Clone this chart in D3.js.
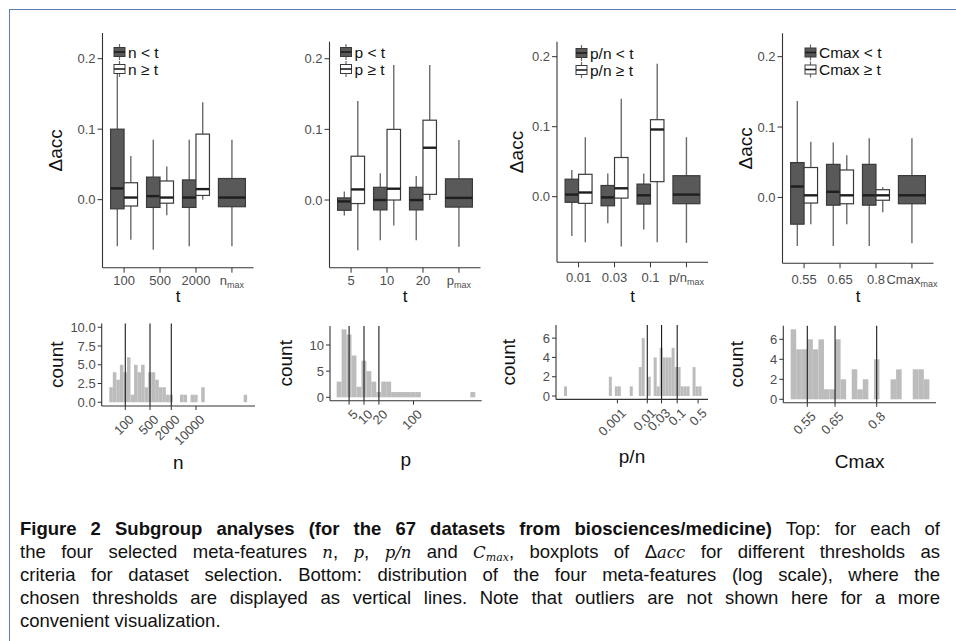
<!DOCTYPE html>
<html>
<head>
<meta charset="utf-8">
<script src="https://cdnjs.cloudflare.com/ajax/libs/d3/7.8.5/d3.min.js"></script>
<style>
body { margin: 0; background: #fff; }
text { font-family: "Liberation Sans", Arial, sans-serif; }
</style>
</head>
<body>
<svg id="fig" width="956" height="641"></svg>
<script>
// boxplot stats per threshold: [whisker low, q1, median, q3, whisker high]
var nTicks = ["100", "500", "2000", "max"];
var nBelow = [[-0.066, -0.013, 0.016, 0.100, 0.179], [-0.071, -0.011, 0.005, 0.032, 0.085],
              [-0.066, -0.011, 0.003, 0.028, 0.085], [-0.066, -0.010, 0.003, 0.030, 0.085]];
var nAbove = [[-0.057, -0.009, 0.003, 0.024, 0.062], [-0.022, -0.005, 0.003, 0.0265, 0.047],
              [0.000, 0.006, 0.015, 0.093, 0.138], null];

var pTicks = ["5", "10", "20", "max"];
var pBelow = [[-0.022, -0.0145, -0.002, 0.003, 0.012], [-0.057, -0.014, 0.000, 0.018, 0.038],
              [-0.057, -0.014, 0.000, 0.018, 0.034], [-0.066, -0.010, 0.003, 0.030, 0.085]];
var pAbove = [[-0.071, -0.005, 0.015, 0.062, 0.140], [-0.036, 0.000, 0.016, 0.100, 0.191],
              [0.000, 0.008, 0.074, 0.113, 0.191], null];

var pnTicks = ["0.01", "0.03", "0.1", "max"];
var pnBelow = [[-0.056, -0.008, 0.003, 0.025, 0.038], [-0.038, -0.013, -0.001, 0.016, 0.033],
               [-0.047, -0.0105, 0.002, 0.018, 0.033], [-0.066, -0.010, 0.003, 0.030, 0.085]];
var pnAbove = [[-0.065, -0.0095, 0.006, 0.032, 0.085], [-0.071, -0.002, 0.012, 0.056, 0.140],
               [-0.065, 0.0215, 0.096, 0.110, 0.190], null];

var cTicks = ["0.55", "0.65", "0.8", "max"];
var cBelow = [[-0.069, -0.038, 0.0155, 0.0495, 0.137], [-0.069, -0.011, 0.008, 0.047, 0.078],
              [-0.069, -0.011, 0.003, 0.047, 0.084], [-0.065, -0.009, 0.003, 0.031, 0.084]];
var cAbove = [[-0.038, -0.008, 0.003, 0.0425, 0.079], [-0.038, -0.009, 0.003, 0.039, 0.060],
              [-0.021, -0.004, 0.003, 0.011, 0.0145], null];

// histograms: counts per bin (bins of equal width on the axis scale)
var nCounts = [2, 4, 3, 5, 4, 6, 1, 5, 4, 5, 2, 4, 4, 3, 2, 2, 1, 1, 0, 0, 1, 1, 0, 1, 1, 0, 2, 0, 0, 0, 0, 0, 0, 0, 0, 0, 0, 0, 1];
var pCounts = [3, 13, 12, 8, 2, 7, 5, 3, 1, 3, 3, 1, 1, 1, 1, 1, 1, 0, 0, 0, 0, 0, 0, 0, 0, 0, 0, 1];
var pnCounts = [1, 0, 0, 0, 0, 0, 0, 0, 0, 0, 0, 0, 0, 0, 0, 2, 0, 1, 1, 0, 0, 0, 1, 0, 0, 3, 6, 0, 2, 0,
                4, 1, 5, 4, 4, 4, 5, 3, 3, 1, 1, 1, 0, 3, 1, 1];
var cCounts = [7, 5, 5, 6, 5, 6, 1, 1, 6, 2, 0, 3, 1, 2, 0, 4, 0, 0, 2, 3, 0, 0, 3, 3, 2];

var nThresholds = [100, 500, 2000];
var pThresholds = [5, 10, 20];
var pnThresholds = [0.01, 0.03, 0.1];
var cThresholds = [0.55, 0.65, 0.8];

var svg = d3.select("#fig");
var axisCol = "#333", tickCol = "#4d4d4d";

svg.append("rect")
  .attr("x", 9.5).attr("y", 9.5).attr("width", 1000).attr("height", 1000)
  .attr("fill", "none").attr("stroke", "#5d7fb5").attr("stroke-width", 1);

var topPanels = [
  {ticks: nTicks, sym: "n", below: nBelow, above: nAbove, x: [102.5, 253.5],
   yDom: [-0.0965, 0.2364], yRng: [267.7, 33], keyX: 114, keyY: 52, ylab: 55, tickY: 285},
  {ticks: pTicks, sym: "p", below: pBelow, above: pAbove, x: [329.5, 480.5],
   yDom: [-0.0958, 0.2241], yRng: [267.7, 41.7], keyX: 340.5, keyY: 52, ylab: null, tickY: 285},
  {ticks: pnTicks, sym: "p/n", below: pnBelow, above: pnAbove, x: [557, 708],
   yDom: [-0.0937, 0.2214], yRng: [262.3, 41.7], keyX: 576, keyY: 53, ylab: 516, tickY: 282},
  {ticks: cTicks, sym: "Cmax", below: cBelow, above: cAbove, x: [782.5, 933.5],
   yDom: [-0.0936, 0.2332], yRng: [263.3, 33.3], keyX: 805, keyY: 52.5, ylab: 745, tickY: 284}
];

function drawBox(g, cx, w, s, y, fill) {
  g.append("line").attr("x1", cx).attr("x2", cx).attr("y1", y(s[4])).attr("y2", y(s[3]))
    .attr("stroke", "#6b6b6b").attr("stroke-width", 1.4);
  g.append("line").attr("x1", cx).attr("x2", cx).attr("y1", y(s[1])).attr("y2", y(s[0]))
    .attr("stroke", "#6b6b6b").attr("stroke-width", 1.4);
  g.append("rect").attr("x", cx - w / 2).attr("y", y(s[3]))
    .attr("width", w).attr("height", y(s[1]) - y(s[3]))
    .attr("fill", fill).attr("stroke", "#3a3a3a").attr("stroke-width", 1.2);
  g.append("line").attr("x1", cx - w / 2).attr("x2", cx + w / 2)
    .attr("y1", y(s[2])).attr("y2", y(s[2]))
    .attr("stroke", "#1e1e1e").attr("stroke-width", 2.4);
}

function legendKey(g, x, cy, fill) {
  var w = 11, h = 16;
  g.append("line").attr("x1", x + w / 2).attr("x2", x + w / 2).attr("y1", cy - h / 2).attr("y2", cy + h / 2)
    .attr("stroke", "#6b6b6b").attr("stroke-width", 1.2);
  g.append("rect").attr("x", x).attr("y", cy - 4.5).attr("width", w).attr("height", 9)
    .attr("fill", fill).attr("stroke", "#3a3a3a").attr("stroke-width", 1);
  g.append("line").attr("x1", x).attr("x2", x + w).attr("y1", cy).attr("y2", cy)
    .attr("stroke", "#1e1e1e").attr("stroke-width", 1.6);
}

topPanels.forEach(function(p) {
  var g = svg.append("g");
  var x = d3.scalePoint().domain(p.ticks).range(p.x).padding(0.6);
  var y = d3.scaleLinear().domain(p.yDom).range(p.yRng);
  var step = x.step();

  p.ticks.forEach(function(t, i) {
    var cx = x(t);
    if (p.above[i]) {
      drawBox(g, cx - step * 0.1875, step * 0.375, p.below[i], y, "#595959");
      drawBox(g, cx + step * 0.1875, step * 0.375, p.above[i], y, "#ffffff");
    } else {
      drawBox(g, cx, step * 0.75, p.below[i], y, "#595959");
    }
  });

  // axes
  g.append("line").attr("x1", p.x[0]).attr("x2", p.x[0]).attr("y1", p.yRng[0]).attr("y2", p.yRng[1])
    .attr("stroke", axisCol).attr("stroke-width", 1.1);
  g.append("line").attr("x1", p.x[0]).attr("x2", p.x[1]).attr("y1", p.yRng[0]).attr("y2", p.yRng[0])
    .attr("stroke", axisCol).attr("stroke-width", 1.1);

  [0, 0.1, 0.2].forEach(function(v) {
    g.append("line").attr("x1", p.x[0] - 5).attr("x2", p.x[0]).attr("y1", y(v)).attr("y2", y(v))
      .attr("stroke", axisCol);
    g.append("text").attr("x", p.x[0] - 7).attr("y", y(v)).attr("dy", "0.35em")
      .attr("text-anchor", "end").attr("font-size", 13).attr("fill", tickCol)
      .text(d3.format(".1f")(v));
  });

  p.ticks.forEach(function(t) {
    g.append("line").attr("x1", x(t)).attr("x2", x(t)).attr("y1", p.yRng[0]).attr("y2", p.yRng[0] + 5)
      .attr("stroke", axisCol);
    var lab = g.append("text").attr("x", x(t)).attr("y", p.tickY)
      .attr("text-anchor", "middle").attr("font-size", 13).attr("fill", tickCol);
    if (t === "max") {
      lab.append("tspan").text(p.sym);
      lab.append("tspan").attr("font-size", 9).attr("dy", 3).text("max");
    } else {
      lab.text(t);
    }
  });

  g.append("text").attr("x", (p.x[0] + p.x[1]) / 2).attr("y", 302)
    .attr("text-anchor", "middle").attr("font-size", 17).attr("fill", "#111").text("t");

  if (p.ylab !== null) {
    g.append("text").attr("transform", "translate(" + p.ylab + "," + ((p.yRng[0] + p.yRng[1]) / 2) + ") rotate(-90)")
      .attr("dy", "0.35em").attr("text-anchor", "middle").attr("font-size", 19).attr("fill", "#111")
      .text("\u0394acc");
  }

  // legend
  var labels = [p.sym + " < t", p.sym + " \u2265 t"];
  [0, 1].forEach(function(i) {
    var cy = p.keyY + i * 17;
    legendKey(g, p.keyX, cy, i === 0 ? "#595959" : "#ffffff");
    g.append("text").attr("x", p.keyX + 14).attr("y", cy).attr("dy", "0.36em")
      .attr("font-size", 15.5).attr("fill", "#111").text(labels[i]);
  });
});

var histPanels = [
  {counts: nCounts, start: 1.547, width: 0.1, log: true, x: [101.7, 255], xDom: [21.5, 466700],
   ticks: [100, 500, 2000, 10000], thr: nThresholds, yDom: [-0.5, 10.5], yRng: [406, 323.5],
   yTicks: [0, 2.5, 5, 7.5, 10], yFmt: ".1f", title: "n", ylab: 56.7, titleY: 469},
  {counts: pCounts, start: 0.448, width: 0.1, log: true, x: [330, 481.7], xDom: [2.056, 2388],
   ticks: [5, 10, 20, 100], thr: pThresholds, yDom: [-0.65, 13.65], yRng: [400.7, 325.9],
   yTicks: [0, 5, 10], yFmt: "d", title: "p", ylab: 285, titleY: 466},
  {counts: pnCounts, start: -4.786, width: 0.1, log: true, x: [556, 708], xDom: [8.85e-6, 1.072],
   ticks: [0.001, 0.01, 0.03, 0.1, 0.5], thr: pnThresholds, yDom: [-0.35, 7.35], yRng: [399.4, 325.1],
   yTicks: [0, 2, 4, 6], yFmt: "d", title: "p/n", ylab: 508, titleY: 463},
  {counts: cCounts, start: 0.490, width: 0.02, log: false, x: [783.3, 936], xDom: [0.4635, 1.0138],
   ticks: [0.55, 0.65, 0.8], thr: cThresholds, yDom: [-0.35, 7.35], yRng: [402.8, 325.8],
   yTicks: [0, 2, 4, 6], yFmt: "d", title: "Cmax", ylab: 736.7, titleY: 468}
];

histPanels.forEach(function(h) {
  var g = svg.append("g");
  var x = (h.log ? d3.scaleLog() : d3.scaleLinear()).domain(h.xDom).range(h.x);
  var y = d3.scaleLinear().domain(h.yDom).range(h.yRng);
  var edge = function(k) {
    var v = h.start + k * h.width;
    return h.log ? Math.pow(10, v) : v;
  };

  g.selectAll("rect.bar").data(h.counts).enter().append("rect")
    .attr("class", "bar")
    .attr("x", function(d, i) { return x(edge(i)); })
    .attr("width", function(d, i) { return x(edge(i + 1)) - x(edge(i)); })
    .attr("y", function(d) { return y(d); })
    .attr("height", function(d) { return y(0) - y(d); })
    .attr("fill", "#bcbcbc");

  h.thr.forEach(function(t) {
    g.append("line").attr("x1", x(t)).attr("x2", x(t)).attr("y1", h.yRng[1]).attr("y2", h.yRng[0])
      .attr("stroke", "#1a1a1a").attr("stroke-width", 1.1);
  });

  g.append("line").attr("x1", h.x[0]).attr("x2", h.x[0]).attr("y1", h.yRng[0]).attr("y2", h.yRng[1])
    .attr("stroke", axisCol).attr("stroke-width", 1.1);
  g.append("line").attr("x1", h.x[0]).attr("x2", h.x[1]).attr("y1", h.yRng[0]).attr("y2", h.yRng[0])
    .attr("stroke", axisCol).attr("stroke-width", 1.1);

  h.yTicks.forEach(function(v) {
    g.append("line").attr("x1", h.x[0] - 4).attr("x2", h.x[0]).attr("y1", y(v)).attr("y2", y(v))
      .attr("stroke", axisCol);
    g.append("text").attr("x", h.x[0] - 6).attr("y", y(v)).attr("dy", "0.35em")
      .attr("text-anchor", "end").attr("font-size", 13).attr("fill", tickCol)
      .text(d3.format(h.yFmt)(v));
  });

  h.ticks.forEach(function(t) {
    var tx = x(t);
    g.append("line").attr("x1", tx).attr("x2", tx).attr("y1", h.yRng[0]).attr("y2", h.yRng[0] + 4)
      .attr("stroke", axisCol);
    g.append("text")
      .attr("transform", "translate(" + (tx + 3) + "," + (h.yRng[0] + 8) + ") rotate(-45)")
      .attr("dy", "0.7em").attr("text-anchor", "end").attr("font-size", 13).attr("fill", tickCol)
      .text(String(t));
  });

  g.append("text").attr("x", (h.x[0] + h.x[1]) / 2).attr("y", h.titleY)
    .attr("text-anchor", "middle").attr("font-size", 19).attr("fill", "#111").text(h.title);

  g.append("text").attr("transform", "translate(" + h.ylab + "," + ((h.yRng[0] + h.yRng[1]) / 2) + ") rotate(-90)")
    .attr("dy", "0.35em").attr("text-anchor", "middle").attr("font-size", 19).attr("fill", "#111")
    .text("count");
});

// caption, lines 1-4 justified to the full width
var capLines = [
  [{t: "Figure 2 Subgroup analyses (for the 67 datasets from biosciences/medicine)", b: true}, {t: " Top: for each of"}],
  [{t: "the four selected meta-features "}, {t: "n", m: true}, {t: ", "}, {t: "p", m: true}, {t: ", "},
   {t: "p/n", m: true}, {t: " and "}, {t: "C", m: true}, {t: "max", m: true, sub: true},
   {t: ", boxplots of \u0394", up: true}, {t: "acc", m: true}, {t: " for different thresholds as"}],
  [{t: "criteria for dataset selection. Bottom: distribution of the four meta-features (log scale), where the"}],
  [{t: "chosen thresholds are displayed as vertical lines. Note that outliers are not shown here for a more"}],
  [{t: "convenient visualization."}]
];

capLines.forEach(function(line, i) {
  var txt = svg.append("text").attr("x", 20).attr("y", 535 + i * 23)
    .attr("font-size", 18.5).attr("fill", "#111");
  line.forEach(function(s) {
    var ts = txt.append("tspan").text(s.t);
    if (s.b) ts.attr("font-weight", "bold");
    if (s.m) ts.style("font-family", "'DejaVu Serif', serif").attr("font-style", "italic").attr("font-size", 16.5);
    if (s.sub) ts.attr("font-size", 11).attr("dy", 2.5);
    if (s.up) ts.attr("dy", -2.5);
  });
  if (i < capLines.length - 1) {
    var natural = txt.node().getComputedTextLength();
    if (natural > 920) {
      txt.attr("textLength", 920).attr("lengthAdjust", "spacingAndGlyphs");
    } else {
      var spaces = line.map(function(s) { return s.t; }).join("").split(" ").length - 1;
      txt.attr("word-spacing", (920 - natural) / spaces);
    }
  }
});
</script>
</body>
</html>
